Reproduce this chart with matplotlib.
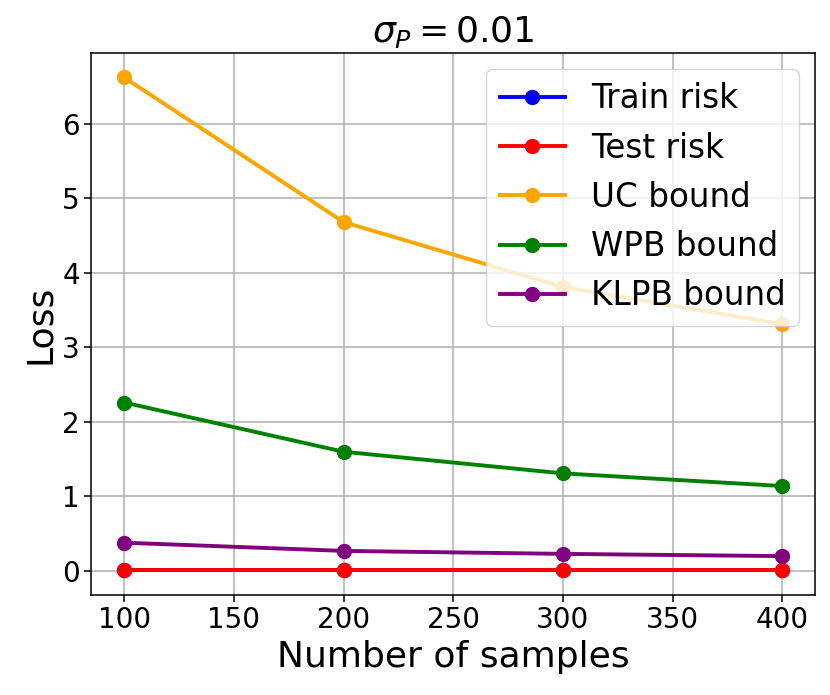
import matplotlib
matplotlib.use("Agg")
import matplotlib.pyplot as plt

n_samples = [100, 200, 300, 400]
train_risk = [0.01, 0.01, 0.01, 0.01]
test_risk = [0.02, 0.02, 0.02, 0.02]
uc_bound = [6.62, 4.68, 3.81, 3.31]
wpb_bound = [2.26, 1.60, 1.31, 1.14]
klpb_bound = [0.38, 0.27, 0.23, 0.20]

fig, ax = plt.subplots(figsize=(8.3, 6.95), dpi=100)
fig.subplots_adjust(left=0.110, right=0.982, top=0.924, bottom=0.144)

style = dict(marker='o', lw=2.8, ms=10)
ax.plot(n_samples, train_risk, color='blue', label='Train risk', **style)
ax.plot(n_samples, test_risk, color='red', label='Test risk', **style)
ax.plot(n_samples, uc_bound, color='orange', label='UC bound', **style)
ax.plot(n_samples, wpb_bound, color='green', label='WPB bound', **style)
ax.plot(n_samples, klpb_bound, color='purple', label='KLPB bound', **style)

ax.set_title(r'$\sigma_P = 0.01$', fontsize=26, pad=8)
ax.set_xlabel('Number of samples', fontsize=26)
ax.set_ylabel('Loss', fontsize=26)
ax.tick_params(labelsize=20, length=4.7, width=1.1)
for sp in ax.spines.values():
    sp.set_linewidth(1.1)
ax.grid(True, color='#b0b0b0', lw=1.1)
ax.legend(fontsize=23.5, loc='upper right')

fig.savefig('out.png')
